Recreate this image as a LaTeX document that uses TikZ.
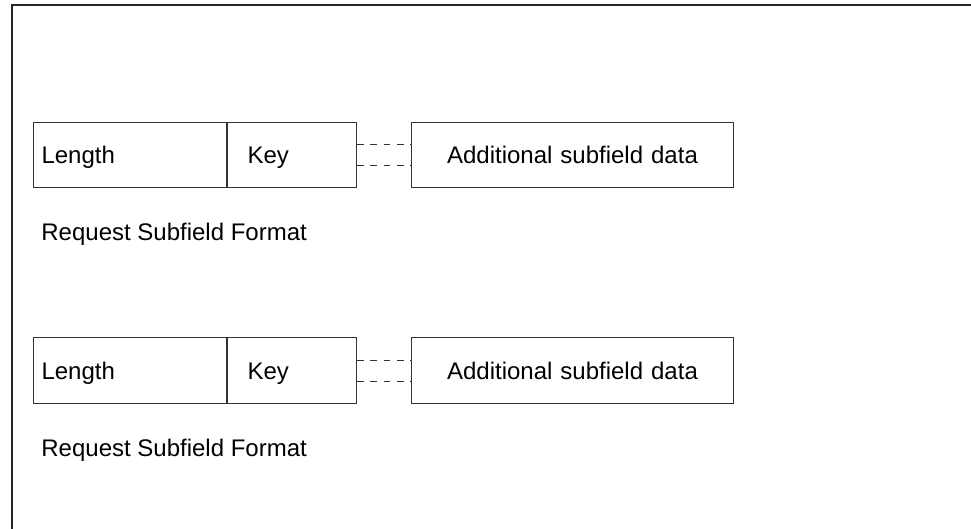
\documentclass[tikz,border=0pt]{standalone}
\usepackage{fontspec}
\setmainfont{Liberation Sans}
\usetikzlibrary{calc}
\begin{document}
\begin{tikzpicture}[x=0.5pt,y=-0.5pt,
  cell/.style={draw=black!80,line width=0.5pt,rectangle,anchor=north west,
    minimum height=32.8pt,inner ysep=0pt,text height=10pt,text depth=1.5pt,
    align=left,font=\fontsize{12}{14}\selectfont},
  lencell/.style={cell,text width=88.5pt,inner xsep=4pt,minimum width=96.5pt},
  keycell/.style={cell,text width=44.5pt,inner xsep=10pt,minimum width=64.5pt},
  datacell/.style={cell,align=center,text width=153pt,inner xsep=4pt,minimum width=161pt},
  caption/.style={anchor=base west,inner sep=0pt,font=\fontsize{12}{14}\selectfont},
  gap/.style={draw=black!80,line width=0.5pt,dash pattern=on 3.33pt off 3.33pt}]
\useasboundingbox (0,0) rectangle (971,529);
% outer frame: top and left edges only
\coordinate (fbl) at (12,529);
\coordinate (ftl) at (12,5);
\coordinate (ftr) at (971,5);
\draw[line width=0.8pt,black!85] (fbl) -- (ftl) -- (ftr);

\foreach \dy/\s in {0/a,215.7/b}{
  \node[lencell] (len\s) at (33,121.7+\dy) {Length};
  \node[keycell,anchor=north west] (key\s) at (len\s.north east) {Key};
  \node[datacell] (dat\s) at (411,121.7+\dy) {Additional subfield data};
  \draw[gap] ($(key\s.north east)!0.34!(key\s.south east)$) -- ($(dat\s.north west)!0.34!(dat\s.south west)$);
  \draw[gap] ($(key\s.north east)!0.66!(key\s.south east)$) -- ($(dat\s.north west)!0.66!(dat\s.south west)$);
  \node[caption] (cap\s) at (41,241+\dy) {Request Subfield Format};
}
\end{tikzpicture}
\end{document}
